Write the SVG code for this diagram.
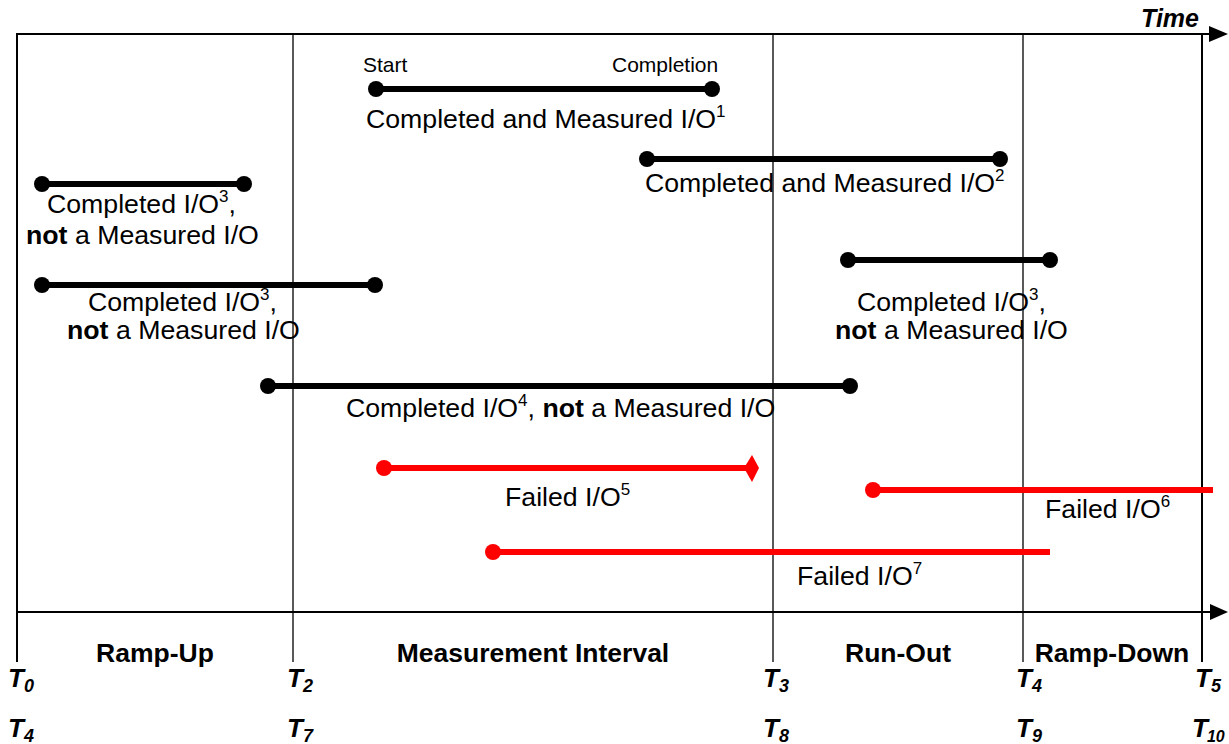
<svg xmlns="http://www.w3.org/2000/svg" width="1229" height="744" viewBox="0 0 1229 744">
<style>
text{font-family:"Liberation Sans",Arial,sans-serif;fill:#000}
.lbl{font-size:26.7px}
.sm{font-size:21px}
.sup{font-size:17px}
.ph{font-size:26.5px;font-weight:bold}
.t{font-size:26px;font-weight:bold;font-style:italic}
.sub{font-size:18px}
.ax{stroke:#000;stroke-width:2;fill:none}
.vl{stroke:#000;stroke-width:1.3;fill:none}
.io{stroke:#000;stroke-width:6;fill:none}
.fio{stroke:#ff0000;stroke-width:6;fill:none}
.dot{fill:#000}
.rdot{fill:#ff0000}
</style>
<rect width="1229" height="744" fill="#fff"/>
<g id="axes">
<line class="ax" x1="17" y1="34" x2="1212" y2="34"/>
<polygon points="1209,26 1228,34 1209,42" fill="#000"/>
<line class="ax" x1="17" y1="612" x2="1212" y2="612"/>
<polygon points="1210,604 1228,612 1210,620" fill="#000"/>
<line class="ax" x1="17" y1="33" x2="17" y2="662"/>
<line class="vl" x1="293" y1="34" x2="293" y2="662"/>
<line class="vl" x1="773" y1="34" x2="773" y2="662"/>
<line class="vl" x1="1023" y1="34" x2="1023" y2="662"/>
<line class="ax" x1="1202" y1="34" x2="1202" y2="662"/>
<text class="t" x="1199" y="27" text-anchor="end" style="font-size:25px">Time</text>
</g>
<g id="phases">
<text class="ph" x="155" y="662" text-anchor="middle">Ramp-Up</text>
<text class="ph" x="533" y="662" text-anchor="middle">Measurement Interval</text>
<text class="ph" x="898" y="662" text-anchor="middle">Run-Out</text>
<text class="ph" x="1112" y="662" text-anchor="middle">Ramp-Down</text>
</g>
<g id="time-marks">
<text class="t" x="8" y="687">T<tspan class="sub" dy="5">0</tspan></text>
<text class="t" x="8" y="737">T<tspan class="sub" dy="5">4</tspan></text>
<text class="t" x="287" y="687">T<tspan class="sub" dy="5">2</tspan></text>
<text class="t" x="287" y="737">T<tspan class="sub" dy="5">7</tspan></text>
<text class="t" x="763" y="687">T<tspan class="sub" dy="5">3</tspan></text>
<text class="t" x="763" y="737">T<tspan class="sub" dy="5">8</tspan></text>
<text class="t" x="1016" y="687">T<tspan class="sub" dy="5">4</tspan></text>
<text class="t" x="1016" y="737">T<tspan class="sub" dy="5">9</tspan></text>
<text class="t" x="1195" y="687">T<tspan class="sub" dy="5">5</tspan></text>
<text class="t" x="1192" y="737">T<tspan class="sub" dy="5" dx="-1" style="font-size:16px">10</tspan></text>
</g>
<g id="connectors">
<line class="io" x1="376" y1="89" x2="712" y2="89"/>
<line class="io" x1="647" y1="159" x2="1000" y2="159"/>
<line class="io" x1="42" y1="184" x2="244" y2="184"/>
<line class="io" x1="42" y1="285" x2="375" y2="285"/>
<line class="io" x1="848" y1="260" x2="1050" y2="260"/>
<line class="io" x1="268" y1="386" x2="850" y2="386"/>
<line class="fio" x1="384" y1="468" x2="750" y2="468"/>
<line class="fio" x1="873" y1="490" x2="1213" y2="490"/>
<line class="fio" x1="493" y1="552" x2="1050" y2="552"/>
</g>
<g id="io1">
<circle class="dot" cx="376" cy="89" r="8"/><circle class="dot" cx="712" cy="89" r="8"/>
<text class="sm" x="363" y="72">Start</text>
<text class="sm" x="612" y="72">Completion</text>
<text class="lbl" x="366" y="128">Completed and Measured I/O<tspan class="sup" dy="-11">1</tspan></text>
</g>
<g id="io2">
<circle class="dot" cx="647" cy="159" r="8"/><circle class="dot" cx="1000" cy="159" r="8"/>
<text class="lbl" x="645" y="192">Completed and Measured I/O<tspan class="sup" dy="-11">2</tspan></text>
</g>
<g id="io3a">
<circle class="dot" cx="42" cy="184" r="8"/><circle class="dot" cx="244" cy="184" r="8"/>
<text class="lbl" x="47" y="213">Completed I/O<tspan class="sup" dy="-11">3</tspan><tspan dy="11">,</tspan></text>
<text class="lbl" x="26" y="244"><tspan font-weight="bold">not</tspan> a Measured I/O</text>
</g>
<g id="io3b">
<circle class="dot" cx="42" cy="285" r="8"/><circle class="dot" cx="375" cy="285" r="8"/>
<text class="lbl" x="88" y="311">Completed I/O<tspan class="sup" dy="-11">3</tspan><tspan dy="11">,</tspan></text>
<text class="lbl" x="67" y="339"><tspan font-weight="bold">not</tspan> a Measured I/O</text>
</g>
<g id="io3c">
<circle class="dot" cx="848" cy="260" r="8"/><circle class="dot" cx="1050" cy="260" r="8"/>
<text class="lbl" x="857" y="311">Completed I/O<tspan class="sup" dy="-11">3</tspan><tspan dy="11">,</tspan></text>
<text class="lbl" x="835" y="339"><tspan font-weight="bold">not</tspan> a Measured I/O</text>
</g>
<g id="io4">
<circle class="dot" cx="268" cy="386" r="8"/><circle class="dot" cx="850" cy="386" r="8"/>
<text class="lbl" x="346" y="417">Completed I/O<tspan class="sup" dy="-11">4</tspan><tspan dy="11">, </tspan><tspan font-weight="bold">not</tspan> a Measured I/O</text>
</g>
<g id="io5">
<circle class="rdot" cx="384" cy="468" r="8"/>
<polygon points="744,468 752,455 759,468 752,482" fill="#ff0000"/>
<text class="lbl" x="505" y="506">Failed I/O<tspan class="sup" dy="-11">5</tspan></text>
</g>
<g id="io6">
<circle class="rdot" cx="873" cy="490" r="8"/>
<text class="lbl" x="1045" y="518">Failed I/O<tspan class="sup" dy="-11">6</tspan></text>
</g>
<g id="io7">
<circle class="rdot" cx="493" cy="552" r="8"/>
<text class="lbl" x="797" y="585">Failed I/O<tspan class="sup" dy="-11">7</tspan></text>
</g>
</svg>
